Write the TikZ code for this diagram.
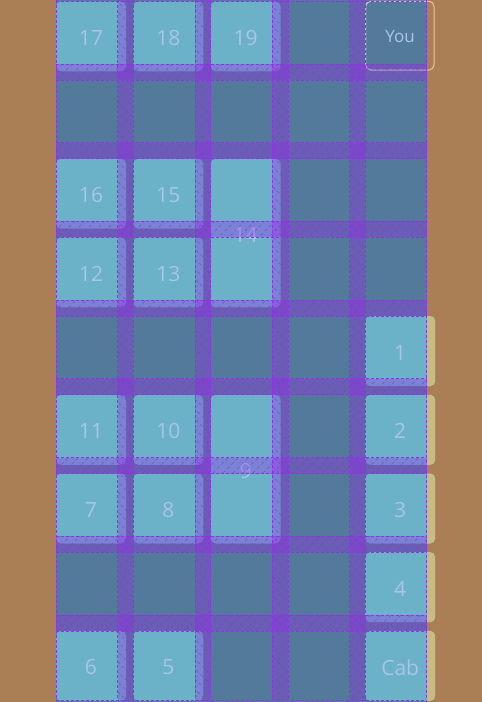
\documentclass[tikz,border=0pt]{standalone}
\usepackage{fontspec}
\setmainfont{Open Sans}

\definecolor{pagebrown}{HTML}{AA7F56}
\definecolor{gridbg}{HTML}{537A9B}
\definecolor{itemcyan}{HTML}{6BB1C8}
\definecolor{itemkhaki}{HTML}{C8BC82}
\definecolor{gapviolet}{HTML}{9A24E8}
\definecolor{lineviolet}{HTML}{9430EC}
\definecolor{labelblue}{HTML}{A9C5EA}
\definecolor{youcream}{HTML}{E9C59B}
\definecolor{youlilac}{HTML}{B8C0E6}

\tikzset{
  cellitem/.style={fill=itemcyan, rounded corners=5pt},
  gapband/.style={fill=gapviolet, fill opacity=0.33},
  hatchline/.style={lineviolet, draw opacity=0.8, line width=0.6pt, dash pattern=on 3pt off 3pt},
  trackline/.style={lineviolet, line width=0.8pt, dash pattern=on 3pt off 2pt},
  itemlabel/.style={text=labelblue, font=\fontsize{21}{21}\selectfont},
}

\begin{document}
\begin{tikzpicture}[x=1pt, y=-1pt]
    \useasboundingbox (0,0) rectangle (482,702);

    % Page and grid container
    \fill[pagebrown] (0,0) rectangle (482,702);
    \fill[gridbg] (56,0) rectangle (427,702);

    % Items (col/row/text/rows spanned)
    \foreach \c/\r/\t/\h in {0/0/17/1, 1/0/18/1, 2/0/19/1,
                             0/2/16/1, 1/2/15/1, 2/2/14/2,
                             0/3/12/1, 1/3/13/1, 4/4/1/1,
                             0/5/11/1, 1/5/10/1, 2/5/9/2, 4/5/2/1,
                             0/6/7/1, 1/6/8/1, 4/6/3/1, 4/7/4/1,
                             0/8/6/1, 1/8/5/1, 4/8/Cab/1} {
        \pgfmathsetmacro\xa{56+77.3*\c}
        \pgfmathsetmacro\ya{1.3+78.7*\r}
        \pgfmathsetmacro\hh{78.7*\h-8.7}
        \fill[cellitem] (\xa,\ya) rectangle ++(70,\hh);
        \node[itemlabel] (n\t) at (\xa+35,\ya+\hh/2+1.5) {\t};
    }

    % Items of the last column overflow the grid
    \begin{scope}
        \clip (427,0) rectangle (482,702);
        \foreach \r in {4,5,6,7,8} {
            \pgfmathsetmacro\ya{1.3+78.7*\r}
            \fill[cellitem, fill=itemkhaki] (365.2,\ya) rectangle ++(70,70);
        }
    \end{scope}

    % Outlined item
    \draw[youcream, line width=1pt, rounded corners=5pt] (365.7,1.3) rectangle (434,70);
    \begin{scope}
        \clip (56,0) rectangle (427,702);
        \draw[youlilac, line width=1pt, rounded corners=5pt, dash pattern=on 3pt off 2pt]
            (365.7,1.3) rectangle (434,70);
    \end{scope}
    \node[itemlabel, font=\fontsize{17}{17}\selectfont] (nyou) at (400,37) {You};

    % Gaps
    \foreach \c in {0,1,2,3} {
        \pgfmathsetmacro\xa{56+77.3*\c+61.6}
        \fill[gapband] (\xa,0) rectangle ++(15.7,700.7);
    }
    \foreach \r in {0,...,7} {
        \pgfmathsetmacro\ya{1.3+78.7*\r+62.7}
        \fill[gapband] (56,\ya) rectangle ++(371,16);
    }

    % Hatching of the column gaps
    \begin{scope}
        \clip (117.6,0) rectangle ++(15.7,700.7)
              (194.9,0) rectangle ++(15.7,700.7)
              (272.2,0) rectangle ++(15.7,700.7)
              (349.5,0) rectangle ++(15.7,700.7);
        \foreach \k in {0,...,110}
            \draw[hatchline] (-644+10*\k,0) -- ++(710,710);
    \end{scope}

    % Hatching of the row gaps
    \begin{scope}
        \clip \foreach \r in {0,...,7} { (56,64+78.7*\r) rectangle ++(371,16) };
        \foreach \k in {0,...,110}
            \draw[hatchline] (56+10*\k,0) -- ++(-710,710);
    \end{scope}

    % Track lines
    \foreach \c in {0,...,4} {
        \pgfmathsetmacro\xa{56+77.3*\c}
        \draw[trackline] (\xa,0) -- (\xa,701);
        \draw[trackline] (\xa+61.6,0) -- (\xa+61.6,701);
    }
    \foreach \r in {0,...,8} {
        \pgfmathsetmacro\ya{1.3+78.7*\r}
        \draw[trackline] (56,\ya) -- (427,\ya);
    }
    \foreach \r in {0,...,7} {
        \pgfmathsetmacro\ya{1.3+78.7*\r+62.7}
        \draw[trackline] (56,\ya) -- (427,\ya);
    }
    \draw[trackline] (56,700.7) -- (427,700.7);
\end{tikzpicture}
\end{document}
